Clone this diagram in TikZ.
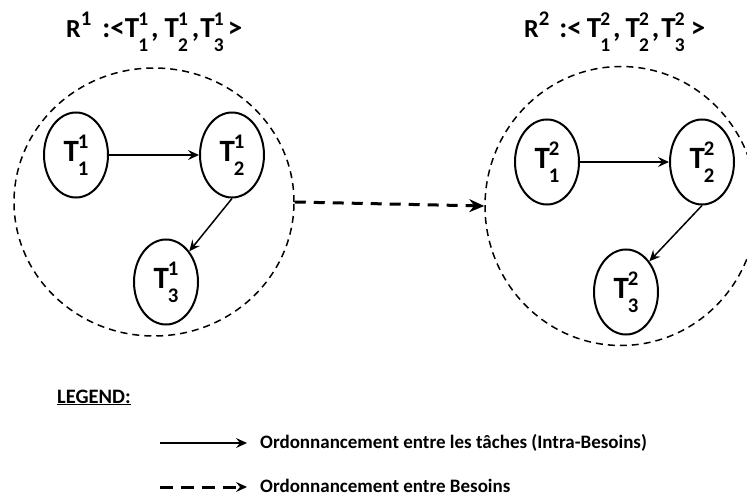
\documentclass[tikz,border=0pt]{standalone}
\usepackage{fontspec}
\setmainfont{Carlito}
\usetikzlibrary{shapes.geometric,arrows.meta}
% T with stacked superscript (request) and subscript (task)
\newcommand{\task}[2]{T\kern-0.03em\rlap{\raisebox{0.43em}{\scalebox{0.67}{#2}}}\raisebox{-0.45em}{\scalebox{0.67}{#1}}}
\newcommand{\req}[1]{{\fontsize{26}{26}\selectfont R\raisebox{0.48em}{\scalebox{0.8}{#1}}}}

\begin{document}
\begin{tikzpicture}[x=1pt, y=-1pt,
    task/.style={draw, ellipse, line width=2pt, minimum width=64pt, minimum height=85pt,
                 inner sep=0pt, font=\fontsize{31}{31}\selectfont\bfseries},
    group/.style={draw, ellipse, line width=1.5pt, dash pattern=on 7pt off 5pt, inner sep=0pt},
    flow/.style={-{Stealth[length=11pt,width=10pt,inset=4pt]}, line width=1.5pt},
    link/.style={-{Stealth[length=15pt,width=13pt,inset=5pt]}, line width=3pt,
                 dash pattern=on 11pt off 8pt},
    title/.style={anchor=base west, inner sep=0pt, font=\fontsize{29}{29}\selectfont\bfseries},
    legend/.style={anchor=base west, inner sep=0pt, font=\fontsize{19}{20}\selectfont\bfseries}
  ]
    \useasboundingbox (0,0) rectangle (747,497);

    % Titles
    \node[title] (r1) at (66,38) {\req{1}\hspace{11pt}:<\task{1}{1}\hspace{3pt},\hspace{6pt}\task{2}{1}\hspace{4pt},\hspace{1pt}\task{3}{1}\hspace{4pt}>};
    \node[title] (r2) at (524,38) {\req{2}\hspace{10pt}:<\hspace{5pt}\task{1}{2}\hspace{3pt},\hspace{5pt}\task{2}{2}\hspace{3pt},\hspace{2pt}\task{3}{2}\hspace{6pt}>};

    % Request 1
    \node[group, minimum width=280pt, minimum height=268pt] (g1) at (154,202) {};
    \node[task] (t11) at (76,155) {\task{1}{1}};
    \node[task] (t21) at (232,155) {\task{2}{1}};
    \node[task] (t31) at (166,282) {\task{3}{1}};
    \draw[flow] (t11) -- (t21);
    \draw[flow] (t21.south) -- (t31.north east);

    % Request 2
    \node[group, minimum width=272pt, minimum height=279pt] (g2) at (621,206) {};
    \node[task] (t12) at (547,162) {\task{1}{2}};
    \node[task] (t22) at (702,162) {\task{2}{2}};
    \node[task] (t32) at (626,292) {\task{3}{2}};
    \draw[flow] (t12) -- (t22);
    \draw[flow] (t22.south) -- (t32.north east);

    % Between requests
    \draw[link] (g1.east) -- (g2.west);

    % Legend
    \node[legend, font=\fontsize{20.5}{20}\selectfont\bfseries] (leg) at (57,403) {\underline{LEGEND:}};
    \coordinate (a1) at (160,443);
    \coordinate (b1) at (247,443);
    \draw[flow] (a1) -- (b1);
    \node[legend] (l1) at (260,448) {Ordonnancement entre les tâches (Intra-Besoins)};
    \coordinate (a2) at (160,487);
    \coordinate (b2) at (247,487);
    \draw[link, dash pattern=on 13pt off 8pt, -{Stealth[length=11pt,width=10pt,inset=4pt]}] (a2) -- (b2);
    \node[legend] (l2) at (260,492) {Ordonnancement entre Besoins};
\end{tikzpicture}
\end{document}
